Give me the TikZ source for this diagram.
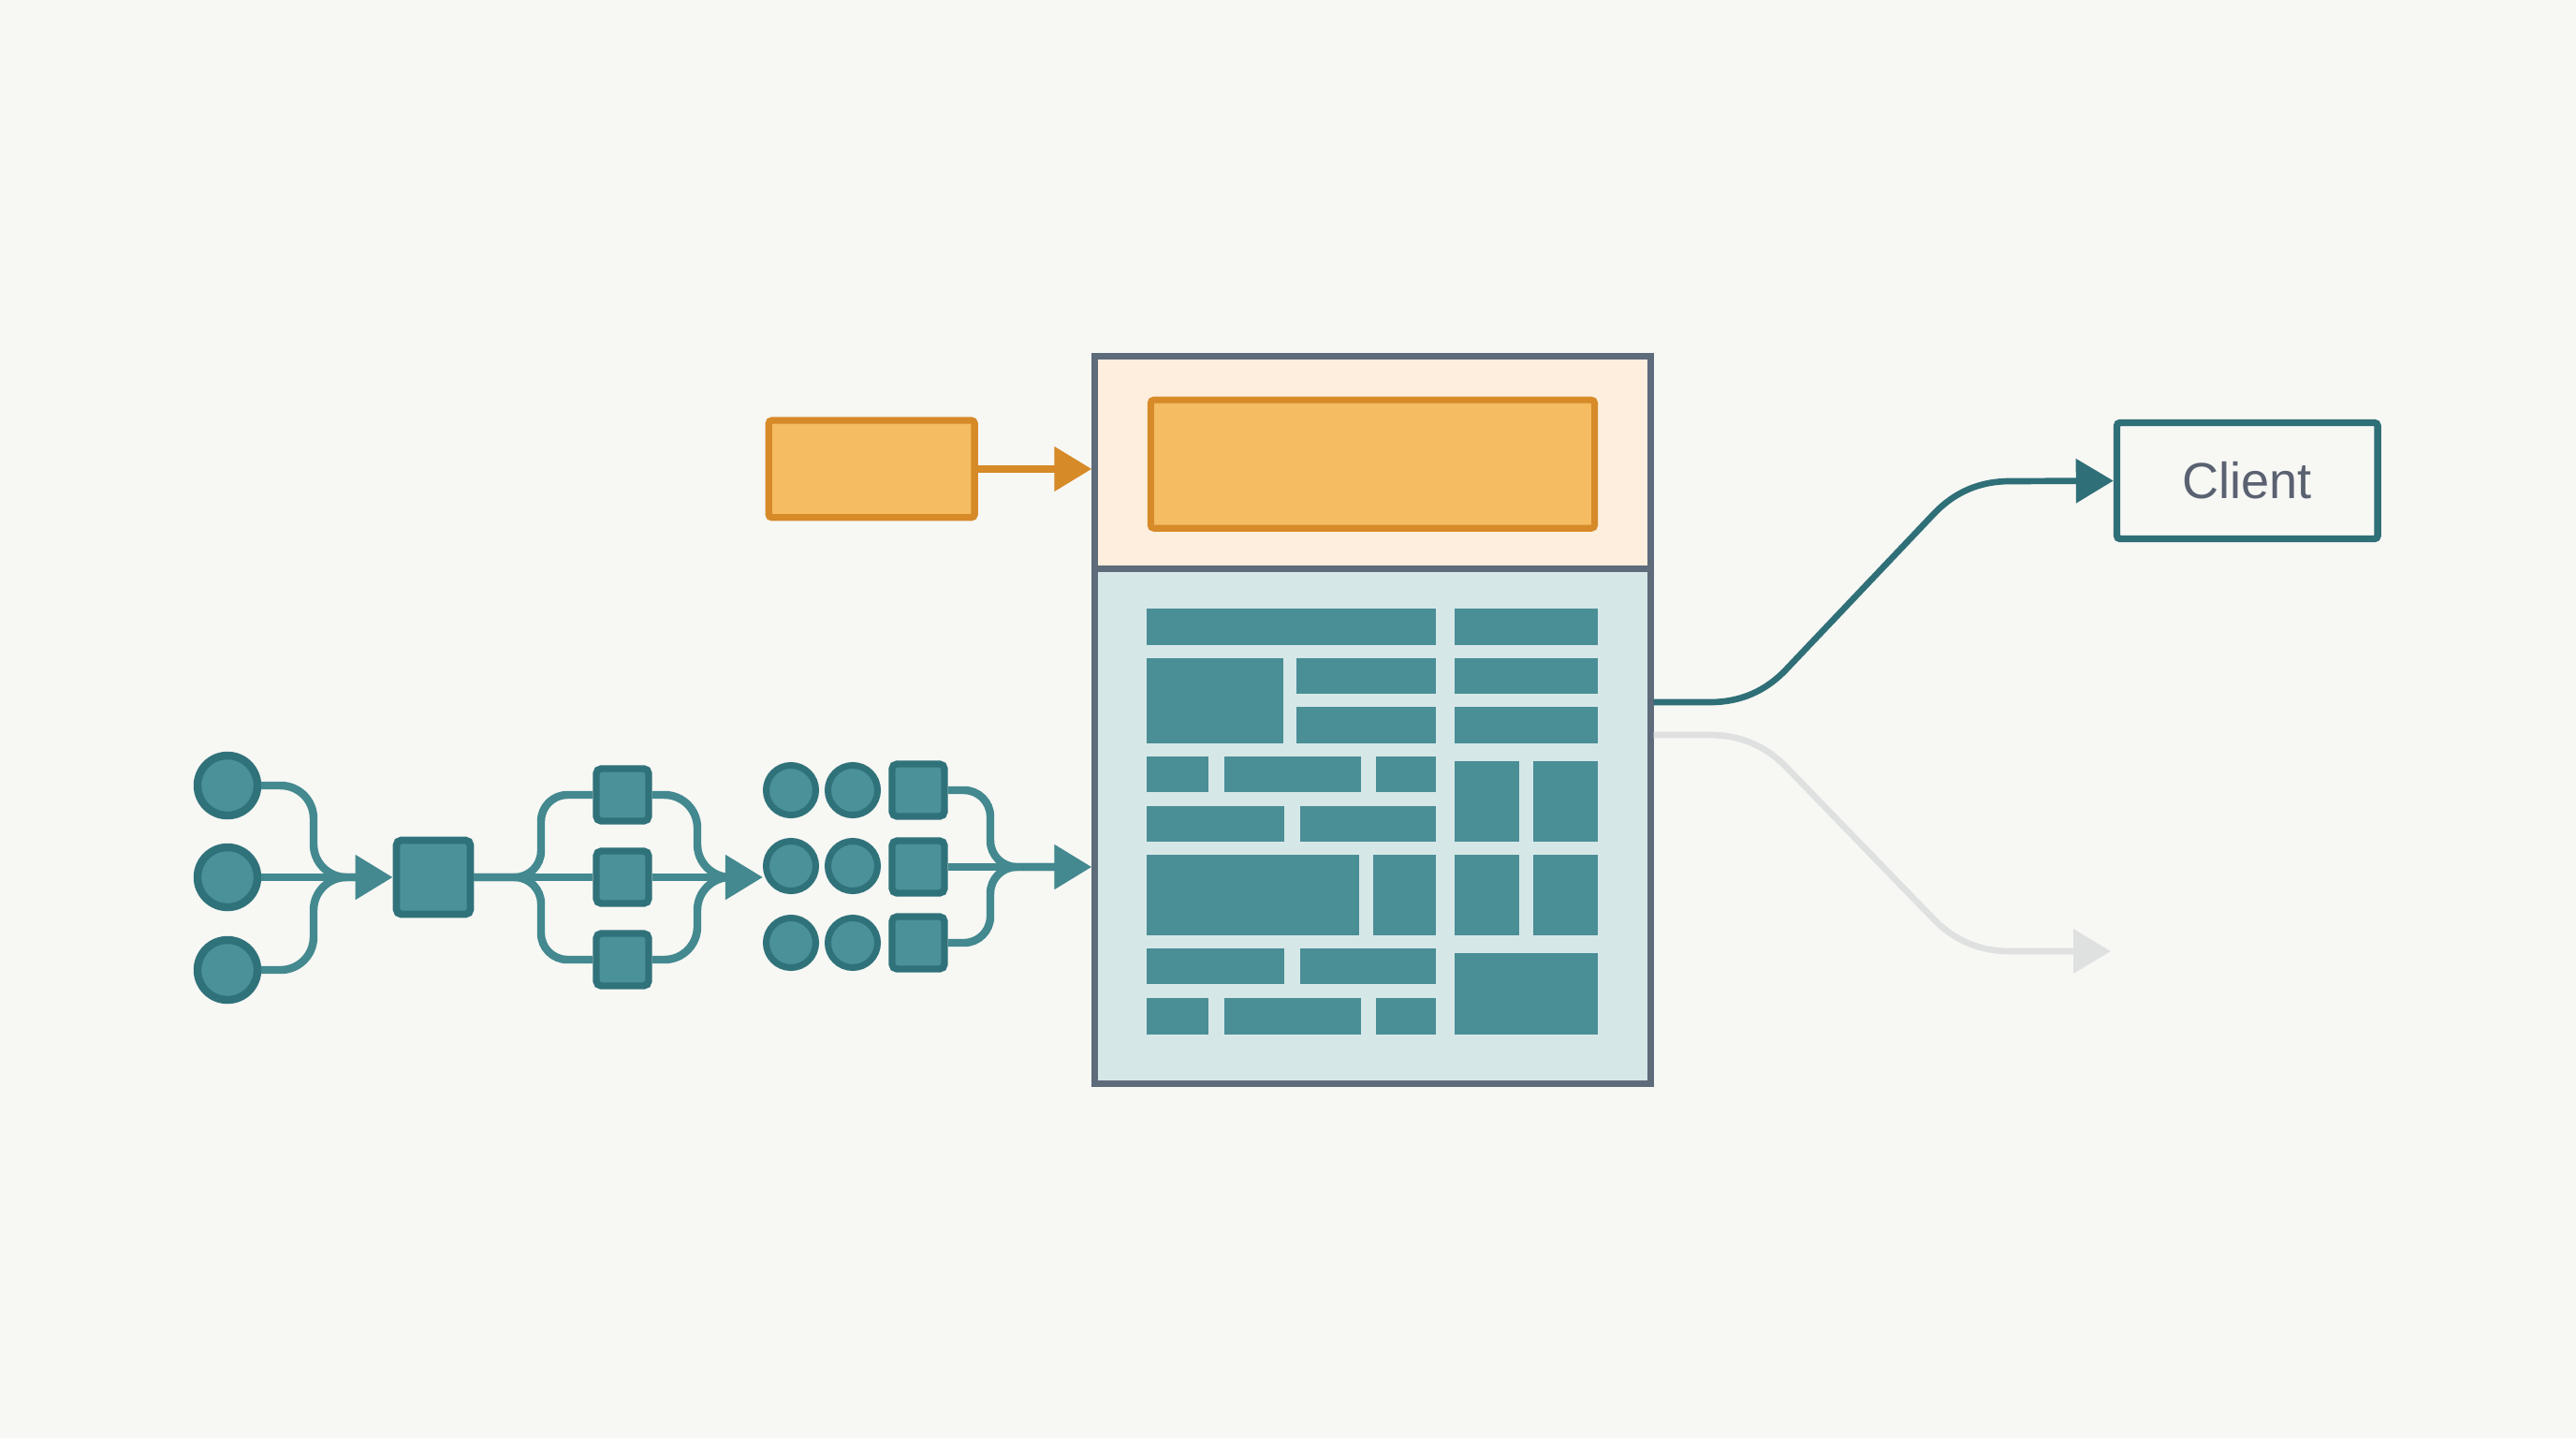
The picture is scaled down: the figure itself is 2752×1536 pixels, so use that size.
\documentclass[tikz,border=0pt]{standalone}
\usepackage{fontspec}
\newfontfamily\clientfont{Liberation Sans}
\usetikzlibrary{arrows.meta,calc}
\definecolor{bg}{HTML}{F7F7F4}
\definecolor{tealF}{HTML}{4A9199}
\definecolor{tealD}{HTML}{30727A}
\definecolor{tealL}{HTML}{43898F}
\definecolor{blk}{HTML}{4A8E96}
\definecolor{panelB}{HTML}{D6E7E8}
\definecolor{panelO}{HTML}{FDEEDD}
\definecolor{slate}{HTML}{5D6B7B}
\definecolor{orF}{HTML}{F5BC62}
\definecolor{orD}{HTML}{D68A28}
\definecolor{clientD}{HTML}{2F6F77}
\definecolor{txt}{HTML}{5A6171}
\definecolor{ghost}{HTML}{DFE0E0}
\begin{document}
\begin{tikzpicture}[x=0.01cm,y=-0.01cm,
  tealnode/.style={fill=tealF, draw=tealD, line width=2.2pt, inner sep=0pt},
  dot/.style={circle, tealnode, minimum size=0.64cm, line width=2.4pt},
  dotsm/.style={circle, tealnode, minimum size=0.53cm, line width=2pt},
  sqbig/.style={rectangle, tealnode, rounded corners=1.5pt, minimum size=0.79cm},
  sqsm/.style={rectangle, tealnode, rounded corners=1.5pt, minimum size=0.56cm, line width=2.1pt},
  flow/.style={draw=tealL, line width=2.4pt},
  tip/.style={-{Triangle[length=0.4cm,width=0.46cm]}},
  panel/.style={draw=slate, line width=2pt, inner sep=0pt, minimum width=5.93cm},
  blkfill/.style={fill=blk}]
% background and bounding box
\fill[bg] (0,0) rectangle (2752,1536);
\useasboundingbox (0,0) rectangle (2752,1536);

% ---------- main store ----------
\node[panel, fill=panelO, minimum height=2.27cm] (top) at (1466.5,494.5) {};
\node[panel, fill=panelB, minimum height=5.496cm] (bot) at (1466.5,882.8) {};
\node[fill=orF, draw=orD, line width=2pt, rounded corners=1pt, inner sep=0pt,
      minimum width=4.74cm, minimum height=1.37cm] (hdr) at (1466.4,495.7) {};

% data blocks
\fill[blkfill] (1225.2,650.3) rectangle (1534.4,689);
\fill[blkfill] (1554.2,650.3) rectangle (1706.8,689);
\fill[blkfill] (1225.2,703.1) rectangle (1370.8,794.1);
\fill[blkfill] (1385,703.1) rectangle (1534.4,741.3);
\fill[blkfill] (1385,755.4) rectangle (1534.4,794.1);
\fill[blkfill] (1554.2,703.1) rectangle (1706.8,741.3);
\fill[blkfill] (1554.2,755.4) rectangle (1706.8,794.1);
\fill[blkfill] (1225.2,808.2) rectangle (1290.9,846.4);
\fill[blkfill] (1308.3,808.2) rectangle (1454.2,846.4);
\fill[blkfill] (1470.4,808.2) rectangle (1534.4,846.4);
\fill[blkfill] (1225.2,860.5) rectangle (1371.5,898.7);
\fill[blkfill] (1388.9,860.5) rectangle (1534.4,898.7);
\fill[blkfill] (1554.2,812.9) rectangle (1623.4,898.7);
\fill[blkfill] (1637.6,812.9) rectangle (1706.8,898.7);
\fill[blkfill] (1554.2,912.8) rectangle (1623.4,999.1);
\fill[blkfill] (1637.6,912.8) rectangle (1706.8,999.1);
\fill[blkfill] (1225.2,912.8) rectangle (1451.8,999.1);
\fill[blkfill] (1467.2,912.8) rectangle (1534.4,999.1);
\fill[blkfill] (1225.2,1013.2) rectangle (1371.5,1051.4);
\fill[blkfill] (1388.9,1013.2) rectangle (1534.4,1051.4);
\fill[blkfill] (1225.2,1066) rectangle (1290.9,1104.8);
\fill[blkfill] (1308.3,1066) rectangle (1454.2,1104.8);
\fill[blkfill] (1470.4,1066) rectangle (1534.4,1104.8);
\fill[blkfill] (1554.2,1017.9) rectangle (1706.8,1104.8);

% ---------- orange source ----------
\node[fill=orF, draw=orD, line width=2.1pt, rounded corners=1pt, inner sep=0pt,
      minimum width=2.197cm, minimum height=1.037cm] (ob) at (931.2,500.9) {};
\draw[draw=orD, line width=2.3pt, tip] (ob.east) -- (ob.east -| top.west);

% ---------- pipeline: group 1 ----------
\node[dot] (c1) at (243,839) {};
\node[dot] (c2) at (243,937) {};
\node[dot] (c3) at (243,1036) {};
\node[sqbig] (sq) at (463,937) {};
\node[sqsm] (s1) at (665,849) {};
\node[sqsm] (s2) at (665,937) {};
\node[sqsm] (s3) at (665,1025) {};

% ---------- group 2 ----------
\node[dotsm] (d11) at (845,844) {};
\node[dotsm] (d12) at (911,844) {};
\node[dotsm] (d21) at (845,925) {};
\node[dotsm] (d22) at (911,925) {};
\node[dotsm] (d31) at (845,1007) {};
\node[dotsm] (d32) at (911,1007) {};
\node[sqsm] (q1) at (981,844) {};
\node[sqsm] (q2) at (981,926) {};
\node[sqsm] (q3) at (981,1007) {};

% merge circles -> big square
\coordinate (v1) at (335,937);
\coordinate (e1) at ($(sq.west)+(-25,0)$);
\draw[flow, rounded corners=10pt] (c1.east) -| (v1) -- (e1);
\draw[flow, rounded corners=10pt] (c3.east) -| (v1) -- (e1);
\draw[flow, tip] (c2) -- (sq);

% split big square -> small squares
\coordinate (v2) at (578,937);
\draw[flow, rounded corners=8pt] (sq.east) -| (v2 |- s1.west) -- (s1.west);
\draw[flow, rounded corners=8pt] (sq.east) -| (v2 |- s3.west) -- (s3.west);
\draw[flow] (sq) -- (s2);

% merge small squares -> group 2
\coordinate (v3) at (745,937);
\coordinate (e3) at ($(s2.east -| d21.west)+(-25,0)$);
\draw[flow, rounded corners=10pt] (s1.east) -| (v3) -- (e3);
\draw[flow, rounded corners=10pt] (s3.east) -| (v3) -- (e3);
\draw[flow, tip] (s2.east) -- (s2.east -| d21.west);

% merge group 2 -> store
\coordinate (v4) at (1058,926);
\coordinate (e4) at ($(q2.east -| bot.west)+(-25,0)$);
\draw[flow, rounded corners=8pt] (q1.east) -| (v4) -- (e4);
\draw[flow, rounded corners=8pt] (q3.east) -| (v4) -- (e4);
\draw[flow, tip] (q2.east) -- (q2.east -| bot.west);

% ---------- client ----------
\node[draw=clientD, fill=bg, line width=2.1pt, rounded corners=1pt, inner sep=0pt,
      minimum width=2.785cm, minimum height=1.24cm,
      font=\clientfont\fontsize{15.4pt}{18pt}\selectfont, text=txt] (client) at (2400.8,513.5) {Client};

\coordinate (k1) at (1875,750);
\coordinate (k2) at (2099,514);
\draw[draw=clientD, line width=1.9pt, tip]
  (bot.east |- k1) -- ($(k1)+(-48,0)$)
  .. controls ($(k1)+(-16,0)$) and ($(k1)!0.16cm!(k2)$) .. ($(k1)!0.48cm!(k2)$)
  -- ($(k2)!0.48cm!(k1)$)
  .. controls ($(k2)!0.16cm!(k1)$) and ($(k2)+(16,0)$) .. ($(k2)+(48,0)$)
  -- (client.west);

\coordinate (k3) at (1875,785);
\coordinate (k4) at (2099,1016);
\coordinate (gend) at (2255,1016);
\draw[draw=ghost, line width=1.9pt, tip]
  (bot.east |- k3) -- ($(k3)+(-48,0)$)
  .. controls ($(k3)+(-16,0)$) and ($(k3)!0.16cm!(k4)$) .. ($(k3)!0.48cm!(k4)$)
  -- ($(k4)!0.48cm!(k3)$)
  .. controls ($(k4)!0.16cm!(k3)$) and ($(k4)+(16,0)$) .. ($(k4)+(48,0)$)
  -- (gend);
\end{tikzpicture}
\end{document}
